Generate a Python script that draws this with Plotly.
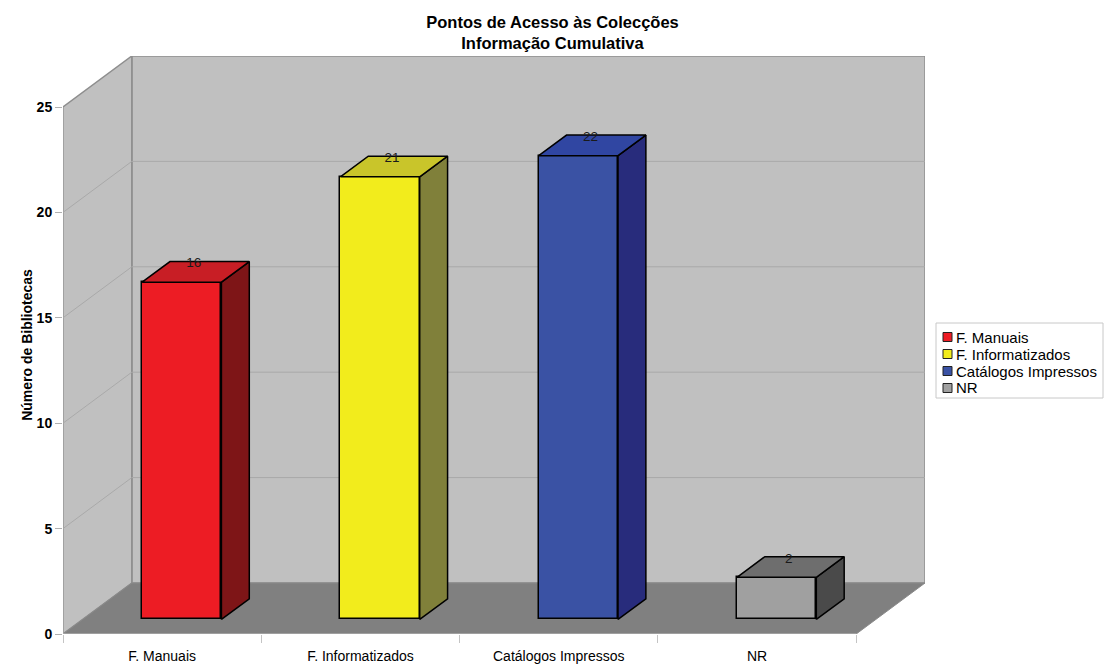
import plotly.graph_objects as go

# ---- data -------------------------------------------------------------
categories = ["F. Manuais", "F. Informatizados", "Catálogos Impressos", "NR"]
values = [16, 21, 22, 2]
y_ticks = [0, 5, 10, 15, 20, 25]

# ---- styling ----------------------------------------------------------
front_colors = ["#ED1C24", "#F2EC1C", "#3A52A4", "#A0A0A0"]
side_colors = ["#7E1517", "#80803A", "#282C7C", "#4A4A4A"]
top_colors = ["#C81E25", "#C9C52A", "#3046A2", "#6E6E6E"]

FONT = "Liberation Sans, Arial, sans-serif"
DX, DY = 0.347, 2.42          # oblique depth vector (x units, y units)
Y_MAX = 25
FRONT, THICK, WIDTH = 0.285, 0.405, 0.40   # bar depth start, bar depth, bar width
N = len(categories)

W, H = 1105, 664
ML, MR, MT, MB = 63, 180, 56, 30
PW, PH = W - ML - MR, H - MT - MB


def px_x(px):
    return (px - ML) / PW


def px_y(py):
    return (H - MB - py) / PH


fig = go.Figure()

# ---- walls, floor and gridlines --------------------------------------
shapes = []
wall = "#C0C0C0"
edge = dict(color="#8E8E8E", width=1.5)
shapes.append(dict(type="rect", xref="x", yref="y", x0=DX, x1=N + DX, y0=DY,
                   y1=Y_MAX + DY, fillcolor=wall, line=edge, layer="below"))
shapes.append(dict(type="path", xref="x", yref="y",
                   path=f"M 0,0 L {DX},{DY} L {DX},{Y_MAX + DY} L 0,{Y_MAX} Z",
                   fillcolor=wall, line=edge, layer="below"))
shapes.append(dict(type="path", xref="x", yref="y",
                   path=f"M 0,0 L {N},0 L {N + DX},{DY} L {DX},{DY} Z",
                   fillcolor="#808080", line=dict(color="#8A8A8A", width=1),
                   layer="below"))
grid = dict(color="#A9A9A9", width=1)
for v in y_ticks[1:-1]:
    shapes.append(dict(type="line", xref="x", yref="y", x0=DX, x1=N + DX,
                       y0=v + DY, y1=v + DY, line=grid, layer="below"))
    shapes.append(dict(type="line", xref="x", yref="y", x0=0, x1=DX,
                       y0=v, y1=v + DY, line=grid, layer="below"))
shapes.append(dict(type="line", xref="x", yref="y", x0=0, x1=0, y0=0,
                   y1=Y_MAX, line=dict(color="#A8A8A8", width=1), layer="below"))
shapes.append(dict(type="line", xref="x", yref="y", x0=0, x1=N, y0=0, y1=0,
                   line=dict(color="#B8B8B8", width=1), layer="below"))

# ---- bars: front faces as bars, side and top faces as polygons --------
base = FRONT * DY
outline = dict(color="#000000", width=1.5)
for i, (cat, v) in enumerate(zip(categories, values)):
    c = i + 0.5 + FRONT * DX
    xl, xr = c - WIDTH / 2, c + WIDTH / 2
    fig.add_trace(go.Bar(x=[c], y=[v], base=[base], width=[WIDTH],
                         marker=dict(color=front_colors[i], line=outline),
                         showlegend=False, hoverinfo="skip"))
    ddx, ddy = THICK * DX, THICK * DY
    top = base + v
    fig.add_trace(go.Scatter(
        x=[xr, xr + ddx, xr + ddx, xr, xr],
        y=[base, base + ddy, top + ddy, top, base],
        fill="toself", fillcolor=side_colors[i], mode="lines",
        line=dict(color="#000000", width=1.5), showlegend=False,
        hoverinfo="skip"))
    fig.add_trace(go.Scatter(
        x=[xl, xr, xr + ddx, xl + ddx, xl],
        y=[top, top, top + ddy, top + ddy, top],
        fill="toself", fillcolor=top_colors[i], mode="lines",
        line=dict(color="#000000", width=1.5), showlegend=False,
        hoverinfo="skip"))

# value labels sitting on the back edge of each bar top
fig.add_trace(go.Scatter(
    x=[i + 0.5 + 0.46 * DX for i in range(N)],
    y=[base + v + THICK * DY - 0.12 for v in values],
    text=[str(v) for v in values], mode="text", textposition="middle center",
    textfont=dict(family=FONT, size=13.5, color="#1A1A1A"),
    showlegend=False, hoverinfo="skip"))

# ---- legend -----------------------------------------------------------
shapes.append(dict(type="rect", xref="paper", yref="paper",
                   x0=px_x(936), x1=px_x(1103), y0=px_y(398), y1=px_y(323),
                   fillcolor="#FFFFFF", line=dict(color="#C8C8C8", width=1)))
annotations = []
for i, cat in enumerate(categories):
    cy = 337 + i * 17
    shapes.append(dict(type="rect", xref="paper", yref="paper",
                       x0=px_x(943), x1=px_x(952), y0=px_y(cy + 4.5), y1=px_y(cy - 4.5),
                       fillcolor=front_colors[i],
                       line=dict(color="#222222", width=1)))
    annotations.append(dict(xref="paper", yref="paper", x=px_x(954), y=px_y(cy),
                            xanchor="left", yanchor="middle", showarrow=False,
                            text=cat, font=dict(family=FONT, size=15, color="#000000")))

fig.update_layout(
    width=W, height=H,
    margin=dict(l=ML, r=MR, t=MT, b=MB, autoexpand=False),
    paper_bgcolor="#FFFFFF", plot_bgcolor="#FFFFFF",
    barmode="overlay", bargap=0,
    title=dict(text="<b>Pontos de Acesso às Colecções</b><br><b>Informação Cumulativa</b>",
               x=0.5, xref="container", xanchor="center",
               y=1 - 28 / H, yref="container", yanchor="top",
               font=dict(family=FONT, size=16.5, color="#000000")),
    xaxis=dict(range=[0, N + DX], tickvals=[i + 0.5 for i in range(N)],
               ticktext=categories, ticks="", showgrid=False, zeroline=False,
               showline=False, fixedrange=True, ticklabelstandoff=12,
               tickfont=dict(family=FONT, size=14, color="#000000"),
               minor=dict(tickmode="array", tickvals=list(range(N + 1)),
                          ticks="outside", ticklen=8, tickcolor="#C4C4C4",
                          showgrid=False)),
    yaxis=dict(range=[0, Y_MAX + DY], tickvals=y_ticks,
               ticktext=[f"<b>{t}</b>" for t in y_ticks],
               ticks="outside", ticklen=7, tickcolor="#B0B0B0",
               showgrid=False, zeroline=False, showline=False, fixedrange=True,
               tickfont=dict(family=FONT, size=14, color="#000000"),
               title=dict(text="<b>Número de Bibliotecas</b>", standoff=0,
                          font=dict(family=FONT, size=14, color="#000000"))),
    shapes=shapes, annotations=annotations, showlegend=False,
)

fig.write_html("out.html")
